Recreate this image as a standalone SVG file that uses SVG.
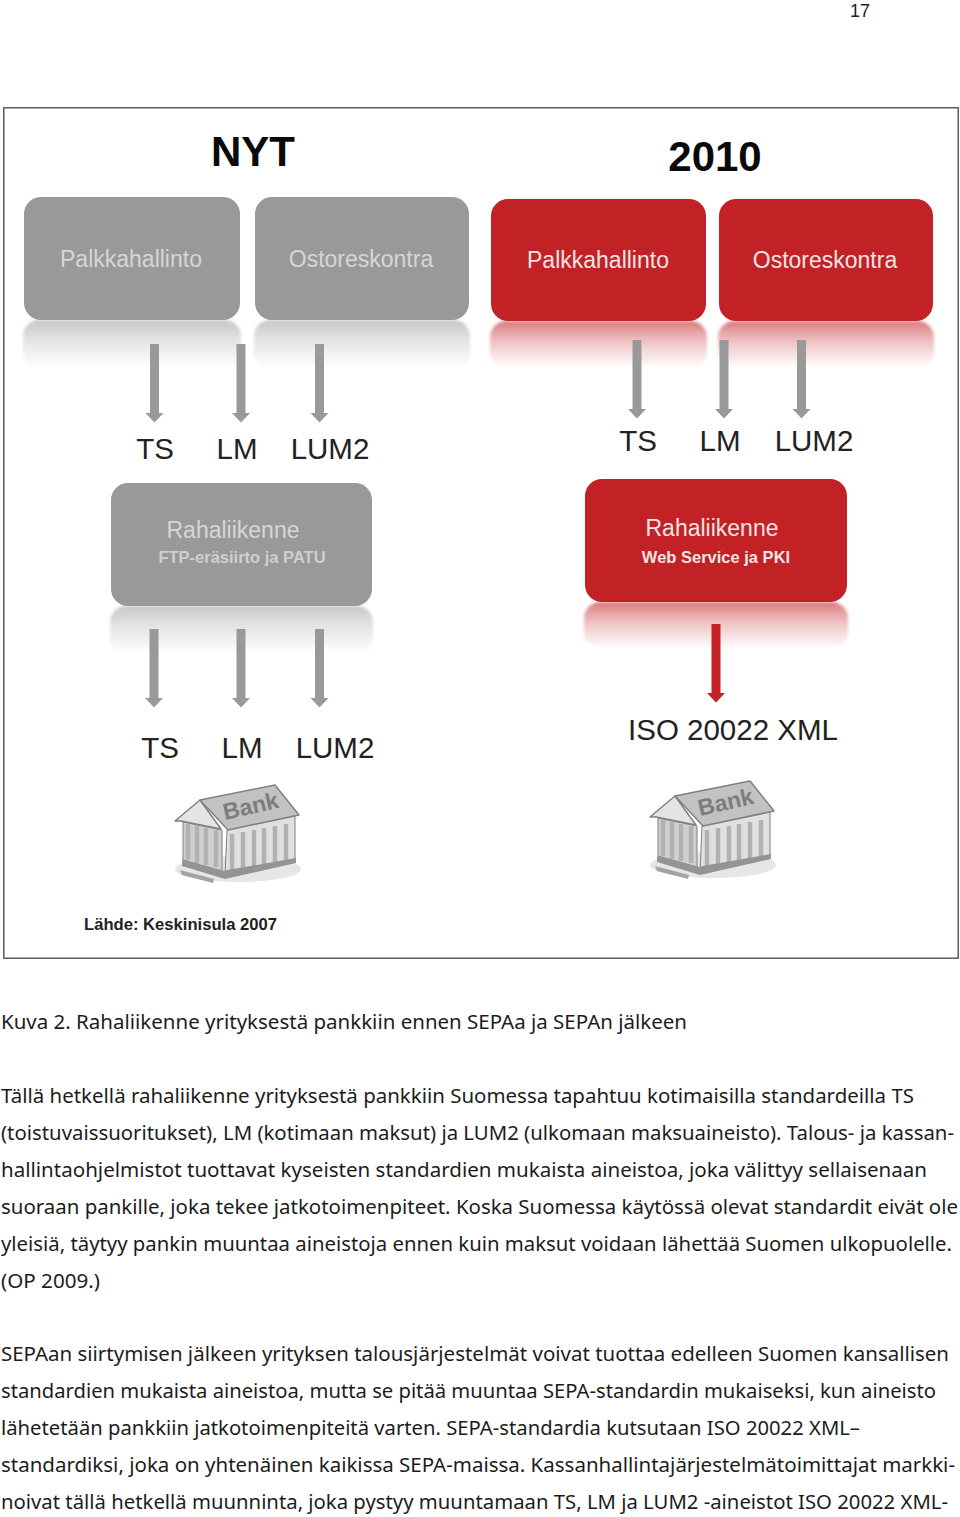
<svg xmlns="http://www.w3.org/2000/svg" xmlns:xlink="http://www.w3.org/1999/xlink" width="960" height="1517" viewBox="0 0 960 1517">
<style>
text{font-family:"Liberation Sans",Arial,sans-serif}
.body{font-family:"Noto Sans","DejaVu Sans",sans-serif;font-size:20px;fill:#1c1c1c}
.box-g{fill:#999999}.box-r{fill:#c22126}
.t-g{font-size:23px;fill:#d6d6d6;text-anchor:middle}
.t-r{font-size:23px;fill:#f4e4e4;text-anchor:middle}
.lab{font-size:29.5px;fill:#222;text-anchor:middle}
.head{font-size:42px;font-weight:bold;fill:#0a0a0a;text-anchor:middle}
.arr-g{fill:#999999}.arr-r{fill:#c22126}
.refl{filter:url(#soft)}
</style>
<defs>
<filter id="soft" x="-5%" y="-20%" width="110%" height="140%"><feGaussianBlur stdDeviation="1.600"/></filter>
<linearGradient id="rg" x1="0" y1="0" x2="0" y2="1"><stop offset="0" stop-color="#999" stop-opacity=".55"/><stop offset=".4" stop-color="#999" stop-opacity=".28"/><stop offset="1" stop-color="#999" stop-opacity="0"/></linearGradient>
<linearGradient id="rr" x1="0" y1="0" x2="0" y2="1"><stop offset="0" stop-color="#c22126" stop-opacity=".6"/><stop offset=".4" stop-color="#c22126" stop-opacity=".3"/><stop offset="1" stop-color="#c22126" stop-opacity="0"/></linearGradient>
<path id="arrow" d="M-4.500 0H4.500V69H9L0 78.500L-9 69H-4.500Z"/>
<g id="bank">
<ellipse cx="238" cy="869" rx="63" ry="13" fill="#e6e6e6"/>
<path d="M183 822L222 830V871L183 860Z" fill="#cfcfcf" stroke="#808080" stroke-width="1"/>
<path d="M227 830L295 816V862L225 876Z" fill="#e0e0e0" stroke="#808080" stroke-width="1"/>
<g stroke="#b2b2b2" stroke-width="4.500" fill="none">
<path d="M188 824V860M197 826V863M206 828V865M216 830V867"/>
<path d="M232 834V870M243 832V868M254 830V866M264 828V864M275 826V862M286 824V860"/>
</g>
<path d="M182 860L222 871L296 858V863L225 879L182 866Z" fill="#949494"/>
<path d="M180 870L214 879L213 883L182 875Z" fill="#a3a3a3"/>
<path d="M175 821L200 800L221 829L181 821Z" fill="#e4e4e4" stroke="#808080" stroke-width="1.500" stroke-linejoin="round"/>
<path d="M200 800L275 785L299 815L228 830Z" fill="#c2c2c2" stroke="#808080" stroke-width="1.500" stroke-linejoin="round"/>
<text x="0" y="0" transform="translate(225 820) rotate(-13)" font-size="23" font-weight="bold" fill="#7d7d7d">Bank</text>
</g>
</defs>
<rect width="960" height="1517" fill="#fff"/>
<text x="860" y="17" font-size="18" fill="#222" text-anchor="middle">17</text>
<rect id="frame" x="3.800" y="107.800" width="954.400" height="850.400" fill="#fff" stroke="#444" stroke-width="1.300"/>
<text class="head" x="253" y="166">NYT</text>
<text class="head" x="715" y="171">2010</text>

<g id="node-palkka-nyt"><rect class="refl" x="23" y="320" width="218" height="48" rx="16" fill="url(#rg)"/><rect class="box-g" x="24" y="197" width="216" height="123" rx="17"/><text class="t-g" x="131" y="267">Palkkahallinto</text></g>
<g id="node-osto-nyt"><rect class="refl" x="254" y="320" width="216" height="48" rx="16" fill="url(#rg)"/><rect class="box-g" x="255" y="197" width="214" height="123" rx="17"/><text class="t-g" x="361" y="267">Ostoreskontra</text></g>
<g id="node-raha-nyt"><rect class="refl" x="110" y="606" width="263" height="48" rx="16" fill="url(#rg)"/><rect class="box-g" x="111" y="483" width="261" height="123" rx="17"/><text class="t-g" x="233" y="538">Rahaliikenne</text><text x="242" y="563" font-size="16.500" font-weight="bold" fill="#cfcfcf" text-anchor="middle">FTP-eräsiirto ja PATU</text></g>
<g id="node-palkka-2010"><rect class="refl" x="490" y="321" width="217" height="46" rx="16" fill="url(#rr)"/><rect class="box-r" x="491" y="199" width="215" height="122" rx="17"/><text class="t-r" x="598" y="268">Palkkahallinto</text></g>
<g id="node-osto-2010"><rect class="refl" x="718" y="321" width="216" height="46" rx="16" fill="url(#rr)"/><rect class="box-r" x="719" y="199" width="214" height="122" rx="17"/><text class="t-r" x="825" y="268">Ostoreskontra</text></g>
<g id="node-raha-2010"><rect class="refl" x="584" y="602" width="264" height="46" rx="16" fill="url(#rr)"/><rect class="box-r" x="585" y="479" width="262" height="123" rx="17"/><text class="t-r" x="712" y="536">Rahaliikenne</text><text x="716" y="563" font-size="16.500" font-weight="bold" fill="#f4e4e4" text-anchor="middle">Web Service ja PKI</text></g>

<g id="connectors">
<use xlink:href="#arrow" href="#arrow" class="arr-g" x="154.500" y="344"/>
<use xlink:href="#arrow" href="#arrow" class="arr-g" x="241" y="344"/>
<use xlink:href="#arrow" href="#arrow" class="arr-g" x="319.500" y="344"/>
<use xlink:href="#arrow" href="#arrow" class="arr-g" x="154" y="629"/>
<use xlink:href="#arrow" href="#arrow" class="arr-g" x="241" y="629"/>
<use xlink:href="#arrow" href="#arrow" class="arr-g" x="319.500" y="629"/>
<use xlink:href="#arrow" href="#arrow" class="arr-g" x="637" y="340"/>
<use xlink:href="#arrow" href="#arrow" class="arr-g" x="724" y="340"/>
<use xlink:href="#arrow" href="#arrow" class="arr-g" x="801.500" y="340"/>
<use xlink:href="#arrow" href="#arrow" class="arr-r" x="716" y="624"/>
</g>

<g id="labels">
<text class="lab" x="155" y="459">TS</text><text class="lab" x="237" y="459">LM</text><text class="lab" x="330" y="459">LUM2</text>
<text class="lab" x="638" y="451">TS</text><text class="lab" x="720" y="451">LM</text><text class="lab" x="814" y="451">LUM2</text>
<text class="lab" x="160" y="758">TS</text><text class="lab" x="242" y="758">LM</text><text class="lab" x="335" y="758">LUM2</text>
<text class="lab" x="733" y="740">ISO 20022 XML</text>
</g>
<g id="node-bank-nyt"><use xlink:href="#bank" href="#bank"/></g>
<g id="node-bank-2010"><use xlink:href="#bank" href="#bank" x="475" y="-4"/></g>
<text x="84" y="930" font-size="17" font-weight="bold" fill="#222" textLength="193" lengthAdjust="spacingAndGlyphs">Lähde: Keskinisula 2007</text>

<g id="caption-and-body">
<text class="body" x="1" y="1029" textLength="686" lengthAdjust="spacingAndGlyphs">Kuva 2. Rahaliikenne yrityksestä pankkiin ennen SEPAa ja SEPAn jälkeen</text>
<text class="body" x="1" y="1103" textLength="913" lengthAdjust="spacingAndGlyphs">Tällä hetkellä rahaliikenne yrityksestä pankkiin Suomessa tapahtuu kotimaisilla standardeilla TS</text>
<text class="body" x="1" y="1140" textLength="953" lengthAdjust="spacingAndGlyphs">(toistuvaissuoritukset), LM (kotimaan maksut) ja LUM2 (ulkomaan maksuaineisto). Talous- ja kassan-</text>
<text class="body" x="1" y="1177" textLength="926" lengthAdjust="spacingAndGlyphs">hallintaohjelmistot tuottavat kyseisten standardien mukaista aineistoa, joka välittyy sellaisenaan</text>
<text class="body" x="1" y="1214" textLength="957" lengthAdjust="spacingAndGlyphs">suoraan pankille, joka tekee jatkotoimenpiteet. Koska Suomessa käytössä olevat standardit eivät ole</text>
<text class="body" x="1" y="1251" textLength="951" lengthAdjust="spacingAndGlyphs">yleisiä, täytyy pankin muuntaa aineistoja ennen kuin maksut voidaan lähettää Suomen ulkopuolelle.</text>
<text class="body" x="1" y="1288" textLength="99" lengthAdjust="spacingAndGlyphs">(OP 2009.)</text>
<text class="body" x="1" y="1361" textLength="948" lengthAdjust="spacingAndGlyphs">SEPAan siirtymisen jälkeen yrityksen talousjärjestelmät voivat tuottaa edelleen Suomen kansallisen</text>
<text class="body" x="1" y="1398" textLength="935" lengthAdjust="spacingAndGlyphs">standardien mukaista aineistoa, mutta se pitää muuntaa SEPA-standardin mukaiseksi, kun aineisto</text>
<text class="body" x="1" y="1435" textLength="859" lengthAdjust="spacingAndGlyphs">lähetetään pankkiin jatkotoimenpiteitä varten. SEPA-standardia kutsutaan ISO 20022 XML–</text>
<text class="body" x="1" y="1472" textLength="954" lengthAdjust="spacingAndGlyphs">standardiksi, joka on yhtenäinen kaikissa SEPA-maissa. Kassanhallintajärjestelmätoimittajat markki-</text>
<text class="body" x="1" y="1509" textLength="947" lengthAdjust="spacingAndGlyphs">noivat tällä hetkellä muunninta, joka pystyy muuntamaan TS, LM ja LUM2 -aineistot ISO 20022 XML-</text>
</g>
</svg>
